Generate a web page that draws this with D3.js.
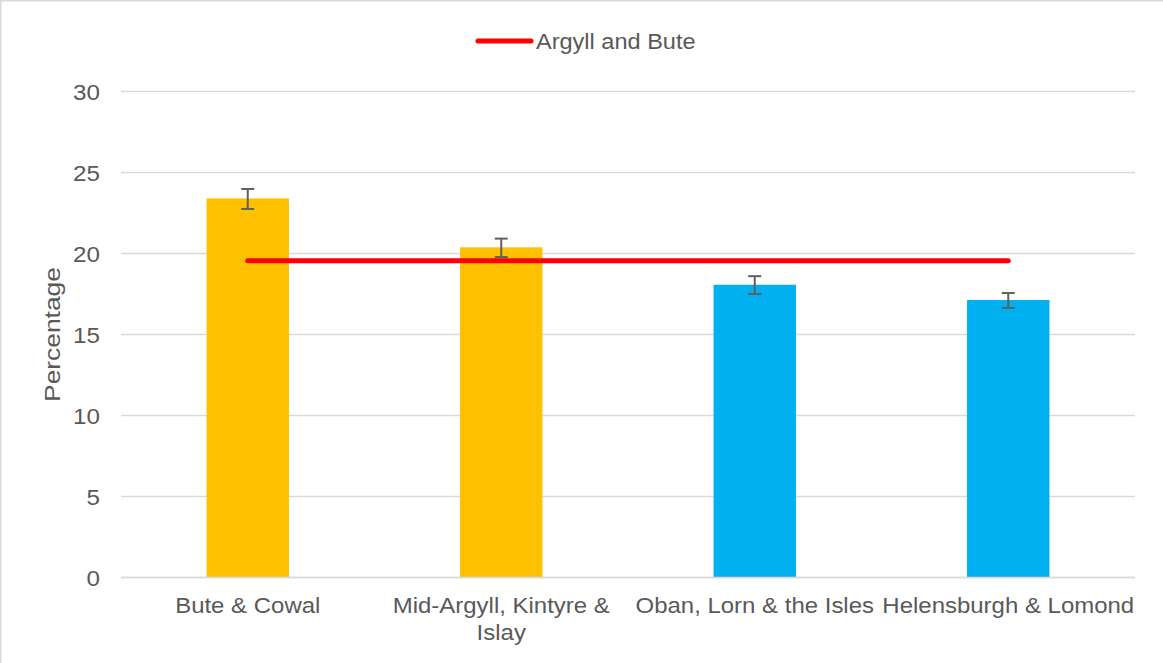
<!DOCTYPE html>
<html>
<head>
<meta charset="utf-8">
<script src="https://cdn.jsdelivr.net/npm/d3@7"></script>
<style>
  html, body { margin: 0; padding: 0; background: #fff; }
  svg { display: block; }
  text { font-family: "Liberation Sans", Arial, sans-serif; fill: #595959; }
</style>
</head>
<body>
<svg id="chart" width="1163" height="663"></svg>
<script>
// ---- Data ----
const categories = ["Bute & Cowal", "Mid-Argyll, Kintyre & Islay", "Oban, Lorn & the Isles", "Helensburgh & Lomond"];
const values = [23.4, 20.38, 18.07, 17.13];
const errLow = [22.75, 19.78, 17.5, 16.64];
const errHigh = [23.98, 20.92, 18.6, 17.56];
const barColors = ["#FFC000", "#FFC000", "#00B0F0", "#00B0F0"];
const averageName = "Argyll and Bute";
const averageValue = 19.56;
const yTicks = [0, 5, 10, 15, 20, 25, 30];
const yLabel = "Percentage";

// ---- Layout ----
const W = 1163, H = 663;
const margin = { left: 121, right: 28, top: 91.5, bottom: 85.5 };
const FS = 22, SX = 1.09;
const svg = d3.select("#chart");

svg.append("rect").attr("x", 0.75).attr("y", 0.75).attr("width", W + 10).attr("height", H + 10)
  .attr("fill", "#fff").attr("stroke", "#d9d9d9").attr("stroke-width", 1.5);

const x = d3.scaleBand().domain(categories).range([margin.left, W - margin.right]).padding(0);
const y = d3.scaleLinear().domain([0, 30]).range([H - margin.bottom, margin.top]);

function addText(parent, ax, ay, str, anchor, sx, rotate) {
  const g = parent.append("g").attr("transform",
    `translate(${ax},${ay})` + (rotate ? ` rotate(${rotate})` : "") + ` scale(${sx},1)`);
  return g.append("text").attr("text-anchor", anchor).attr("font-size", FS).text(str);
}

// gridlines
svg.append("g").selectAll("line").data(yTicks).join("line")
  .attr("x1", margin.left).attr("x2", W - margin.right)
  .attr("y1", d => y(d)).attr("y2", d => y(d))
  .attr("stroke", "#d9d9d9").attr("stroke-width", 1.3);

// y tick labels
const gy = svg.append("g");
yTicks.forEach(t => addText(gy, 100, y(t) + 8, String(t), "end", 1.1));

// y label
addText(svg, 60, (y(0) + y(30)) / 2, yLabel, "middle", 1.2, -90);

// bars
const barW = x.bandwidth() * 0.325;
svg.append("g").selectAll("rect").data(categories).join("rect")
  .attr("x", d => x(d) + x.bandwidth() / 2 - barW / 2)
  .attr("width", barW)
  .attr("y", (d, i) => y(values[i]))
  .attr("height", (d, i) => y(0) - y(values[i]))
  .attr("fill", (d, i) => barColors[i]);

// bottom axis line
svg.append("line").attr("x1", margin.left).attr("x2", W - margin.right)
  .attr("y1", y(0)).attr("y2", y(0)).attr("stroke", "#d9d9d9").attr("stroke-width", 1.5);

// error bars
const eg = svg.append("g").attr("stroke", "#5f5f5f").attr("stroke-width", 2);
categories.forEach((c, i) => {
  const cx = x(c) + x.bandwidth() / 2;
  eg.append("line").attr("x1", cx).attr("x2", cx).attr("y1", y(errHigh[i])).attr("y2", y(errLow[i]));
  eg.append("line").attr("x1", cx - 6.5).attr("x2", cx + 6.5).attr("y1", y(errHigh[i])).attr("y2", y(errHigh[i]));
  eg.append("line").attr("x1", cx - 6.5).attr("x2", cx + 6.5).attr("y1", y(errLow[i])).attr("y2", y(errLow[i]));
});

// average line
const line = d3.line().x(d => x(d) + x.bandwidth() / 2).y(() => y(averageValue));
svg.append("path").datum(categories).attr("d", line)
  .attr("fill", "none").attr("stroke", "#FF0000").attr("stroke-width", 5).attr("stroke-linecap", "round");

// category labels with wrapping (width measured before horizontal scaling)
const maxW = 240;
const gx = svg.append("g");
categories.forEach(c => {
  const cx = x(c) + x.bandwidth() / 2;
  const t = addText(gx, cx, 613, "", "middle", SX);
  const words = c.split(" ");
  let lineWords = [];
  let tspan = t.append("tspan").attr("x", 0).attr("dy", 0);
  words.forEach(w => {
    lineWords.push(w);
    tspan.text(lineWords.join(" "));
    if (tspan.node().getComputedTextLength() > maxW && lineWords.length > 1) {
      lineWords.pop();
      tspan.text(lineWords.join(" "));
      lineWords = [w];
      tspan = t.append("tspan").attr("x", 0).attr("dy", 27).text(w);
    }
  });
});

// legend
const lg = svg.append("g");
lg.append("line").attr("x1", 478).attr("x2", 531).attr("y1", 41).attr("y2", 41)
  .attr("stroke", "#FF0000").attr("stroke-width", 5).attr("stroke-linecap", "round");
addText(lg, 536, 49, averageName, "start", 1.07);
</script>
</body>
</html>
